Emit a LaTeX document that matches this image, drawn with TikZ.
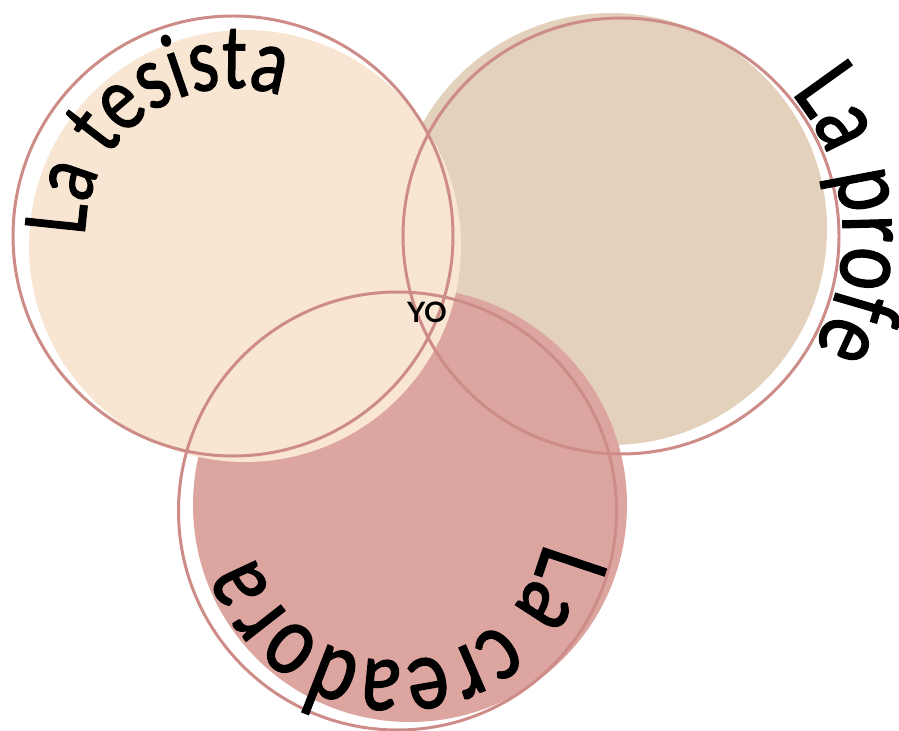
\documentclass[tikz,border=0pt]{standalone}
\usepackage{fontspec}
\usepackage{tikz}
\usetikzlibrary{decorations.text}
\newfontfamily\arcfont[FakeStretch=0.8, FakeBold=1.2]{Carlito}
\newfontfamily\yofont{Lato}
\definecolor{ringcol}{RGB}{205,140,135}
\definecolor{tesistafill}{RGB}{248,230,210}
\definecolor{profefill}{RGB}{227,209,188}
\definecolor{creadorafill}{RGB}{220,165,160}

\begin{document}
\begin{tikzpicture}[disc/.style={circle, inner sep=0pt, draw=none},
    ring/.style={circle, inner sep=0pt, draw=ringcol, line width=1.7pt},
    arclabel/.style={decorate, decoration={text along path, text align=left, text={#1}}}]
  \useasboundingbox (0,0) rectangle (17.98,14.6);
  % filled discs, a bit off the rings
  \node[disc, fill=profefill, minimum size=8.64cm] (profeF) at (12.22,10.02) {};
  \node[disc, fill=creadorafill, minimum size=8.68cm] (creadoraF) at (8.20,4.50) {};
  \node[disc, fill=tesistafill, minimum size=8.64cm] (tesistaF) at (4.90,9.68) {};
  % rings
  \node[ring, minimum size=8.80cm] (tesista) at (4.66,9.88) {};
  \node[ring, minimum size=8.72cm] (profe) at (12.42,9.88) {};
  \node[ring, minimum size=8.76cm] (creadora) at (7.95,4.38) {};
  % curved labels
  \path[arclabel={|\arcfont\fontsize{53}{53}\selectfont|La tesista}]
    (tesista.center) ++(180:2.96) arc[start angle=180, end angle=20, radius=2.96];
  \path[arclabel={|\arcfont\fontsize{58}{58}\selectfont|La profe}]
    (profe.center) ++(40:4.44) arc[start angle=40, end angle=-80, radius=4.44];
  \path[arclabel={|\arcfont\fontsize{59}{59}\selectfont|La creadora}]
    (creadora.center) ++(-12:3.00) arc[start angle=-12, end angle=-230, radius=3.00];
  \node[font=\yofont\bfseries\fontsize{16}{16}\selectfont, inner sep=0pt] (yo) at (8.54,8.36) {YO};
\end{tikzpicture}
\end{document}
